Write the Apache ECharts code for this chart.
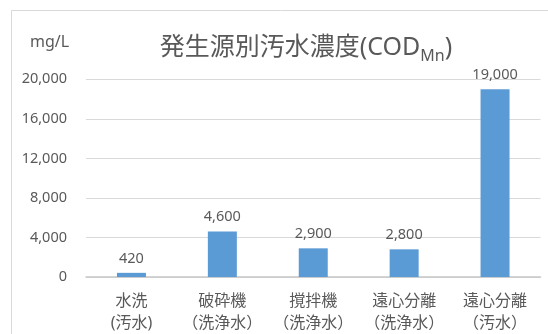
<!DOCTYPE html>
<html>
<head>
<meta charset="utf-8">
<script src="https://cdn.jsdelivr.net/npm/echarts@6/dist/echarts.min.js"></script>
<style>
  html, body { margin: 0; padding: 0; background: #ffffff; }
  #chart { width: 548px; height: 334px; }
</style>
</head>
<body>
<div id="chart"></div>
<script>
// Wastewater COD(Mn) concentration by source
const categories = ['水洗\n(汚水)', '破砕機\n（洗浄水）', '撹拌機\n（洗浄水）', '遠心分離\n（洗浄水）', '遠心分離\n（汚水）'];
const codValues = [420, 4600, 2900, 2800, 19000];
const yTicks = [0, 4000, 8000, 12000, 16000, 20000];

const textColor = '#595959';
const fontFamily = '"Noto Sans", "Noto Sans CJK JP", sans-serif';
const fmt = v => v.toLocaleString('en-US');

const chart = echarts.init(document.getElementById('chart'), null, { renderer: 'canvas' });

chart.setOption({
  animation: false,
  backgroundColor: '#ffffff',
  textStyle: { fontFamily: fontFamily, color: textColor },
  graphic: [
    {
      type: 'rect',
      shape: { x: 11.5, y: 10.5, width: 600, height: 400 },
      style: { fill: 'none', stroke: '#D9D9D9', lineWidth: 1 },
      silent: true
    },
    {
      type: 'text',
      left: 30,
      top: 34,
      style: { text: 'mg/L', fontSize: 16, fill: textColor, fontFamily: fontFamily }
    }
  ],
  title: {
    text: '{a|発生源別汚水濃度(COD}{s|Mn}{a|)}',
    left: 301,
    textAlign: 'center',
    top: 27,
    textStyle: {
      fontWeight: 'normal',
      rich: {
        a: { fontSize: 25, lineHeight: 32, fontWeight: 'normal', color: textColor, fontFamily: fontFamily },
        s: { fontSize: 16, lineHeight: 16, fontWeight: 'normal', verticalAlign: 'bottom', color: textColor, fontFamily: fontFamily }
      }
    }
  },
  grid: { left: 86, right: 7.5, top: 79.3, bottom: 56.7, containLabel: false },
  xAxis: {
    type: 'category',
    data: categories,
    axisTick: { show: false },
    axisLine: { lineStyle: { color: '#C8C8C8', width: 1.5 } },
    axisLabel: {
      color: textColor,
      fontSize: 16,
      lineHeight: 22,
      margin: 13,
      interval: 0,
      fontFamily: fontFamily
    }
  },
  yAxis: {
    type: 'value',
    min: yTicks[0],
    max: yTicks[yTicks.length - 1],
    interval: yTicks[1] - yTicks[0],
    axisLine: { show: false },
    axisTick: { show: false },
    splitLine: { lineStyle: { color: '#D9D9D9', width: 1 } },
    axisLabel: {
      color: textColor,
      fontSize: 14.5,
      margin: 19,
      fontFamily: fontFamily,
      formatter: v => fmt(v)
    }
  },
  series: [{
    type: 'bar',
    data: codValues,
    barWidth: 29,
    itemStyle: { color: '#5B9BD5' },
    label: {
      show: true,
      position: 'top',
      distance: 7,
      color: textColor,
      fontSize: 14.5,
      fontFamily: fontFamily,
      formatter: p => fmt(p.value)
    }
  }]
});
</script>
</body>
</html>
